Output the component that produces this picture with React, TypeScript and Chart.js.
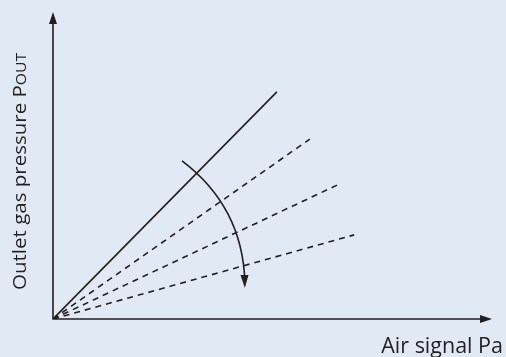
import React, { useEffect, useRef } from "react";
import { Chart, registerables } from "chart.js";

Chart.register(...registerables);

// Characteristic lines: all start at the origin (0,0)
const lineNames = ["solid", "dash1", "dash2", "dash3"];
const lineEndX = [51, 58.5, 64.7, 68.6];
const lineEndY = [74, 58.6, 43.6, 27.4];
const lineDashed = [false, true, true, true];

// Curved adjustment arrow (data units)
const arcStart = [29.4, 51.5];
const arcControl = [43.2, 36.5];
const arcEnd = [43.7, 10.1];

const xTitle = "Air signal Pa";
const yTitle = "Outlet gas pressure P";
const yTitleSub = "OUT";

const INK = "#231f20";
const BG = "#e1e9f5";
const FONT = "'Open Sans', 'Noto Sans', sans-serif";

function arrowHead(ctx: CanvasRenderingContext2D, tipX: number, tipY: number, dx: number, dy: number, len: number, half: number) {
  const l = Math.hypot(dx, dy) || 1;
  const ux = dx / l, uy = dy / l;
  const bx = tipX - ux * len, by = tipY - uy * len;
  ctx.beginPath();
  ctx.moveTo(tipX, tipY);
  ctx.lineTo(bx - uy * half, by + ux * half);
  ctx.lineTo(bx + uy * half, by - ux * half);
  ctx.closePath();
  ctx.fill();
}

const decorPlugin = {
  id: "decor",
  beforeDraw(chart: any) {
    const ctx = chart.ctx as CanvasRenderingContext2D;
    ctx.save();
    ctx.fillStyle = BG;
    ctx.fillRect(0, 0, chart.width, chart.height);
    ctx.restore();
  },
  afterDatasetsDraw(chart: any) {
    const ctx = chart.ctx as CanvasRenderingContext2D;
    const xs = chart.scales.x, ys = chart.scales.y;
    const ox = xs.getPixelForValue(0), oy = ys.getPixelForValue(0);
    const xMax = xs.getPixelForValue(xs.max), yMax = ys.getPixelForValue(ys.max);
    ctx.save();
    ctx.strokeStyle = INK;
    ctx.fillStyle = INK;
    ctx.lineWidth = 1.6;
    ctx.setLineDash([]);
    // axes
    ctx.beginPath();
    ctx.moveTo(ox, yMax + 6);
    ctx.lineTo(ox, oy);
    ctx.lineTo(xMax - 6, oy);
    ctx.stroke();
    arrowHead(ctx, ox, yMax, 0, -1, 12, 4);
    arrowHead(ctx, xMax, oy, 1, 0, 12, 4);

    // curved arrow
    const p0x = xs.getPixelForValue(arcStart[0]), p0y = ys.getPixelForValue(arcStart[1]);
    const p1x = xs.getPixelForValue(arcControl[0]), p1y = ys.getPixelForValue(arcControl[1]);
    const p2x = xs.getPixelForValue(arcEnd[0]), p2y = ys.getPixelForValue(arcEnd[1]);
    ctx.lineWidth = 1.6;
    ctx.beginPath();
    ctx.moveTo(p0x, p0y);
    ctx.quadraticCurveTo(p1x, p1y, p2x, p2y - 6);
    ctx.stroke();
    arrowHead(ctx, p2x, p2y, p2x - p1x, p2y - p1y, 13, 4);

    // titles
    ctx.font = `21.5px ${FONT}`;
    ctx.textAlign = "right";
    ctx.textBaseline = "alphabetic";
    ctx.fillText(xTitle, 503, 353);

    ctx.translate(26, 290);
    ctx.rotate(-Math.PI / 2);
    ctx.textAlign = "left";
    ctx.font = `19px ${FONT}`;
    const w = ctx.measureText(yTitle).width;
    ctx.font = `14.5px ${FONT}`;
    const ws = ctx.measureText(yTitleSub).width;
    const target = 237;
    ctx.scale(target / (w + ws), 1);
    ctx.font = `19px ${FONT}`;
    ctx.fillText(yTitle, 0, 0);
    ctx.font = `14.5px ${FONT}`;
    ctx.fillText(yTitleSub, w, 0);
    ctx.restore();
  },
};

export default function App() {
  const ref = useRef<HTMLCanvasElement>(null);
  useEffect(() => {
    if (!ref.current) return;
    const datasets = lineNames.map((name, i) => ({
      label: name,
      data: [
        { x: 0, y: 0 },
        { x: lineEndX[i], y: lineEndY[i] },
      ],
      showLine: true,
      borderColor: INK,
      borderWidth: 1.6,
      borderDash: lineDashed[i] ? [6, 5] : [],
      pointRadius: 0,
      fill: false,
    }));
    const chart = new Chart(ref.current, {
      type: "scatter",
      data: { datasets },
      options: {
        animation: false,
        responsive: false,
        devicePixelRatio: 1,
        layout: { padding: { left: 53, right: 14, top: 12, bottom: 38 } },
        plugins: { legend: { display: false }, tooltip: { enabled: false }, title: { display: false } },
        scales: {
          x: { type: "linear", min: 0, max: 100, display: false },
          y: { type: "linear", min: 0, max: 100, display: false },
        },
      },
      plugins: [decorPlugin],
    });
    return () => chart.destroy();
  }, []);
  return (
    <div style={{ position: "absolute", left: 0, top: 0, width: 506, height: 357, background: BG }}>
      <canvas ref={ref} width={506} height={357} style={{ display: "block" }} />
    </div>
  );
}
